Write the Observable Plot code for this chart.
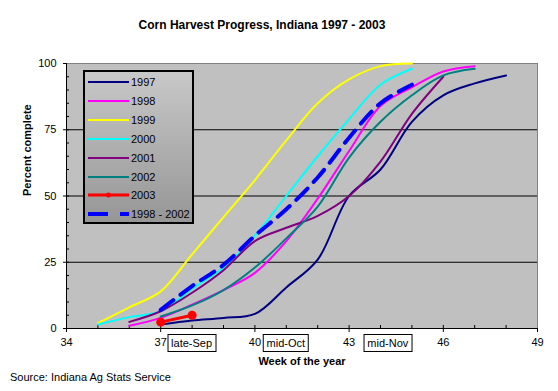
<!DOCTYPE html>
<html><head><meta charset="utf-8">
<script src="https://cdn.jsdelivr.net/npm/d3@7"></script>
<script src="https://cdn.jsdelivr.net/npm/@observablehq/plot@0.6"></script>
<style>
body{margin:0;background:#fff;font-family:"Liberation Sans",Arial,sans-serif;color:#000;}
#wrap{position:relative;width:558px;height:391px;overflow:hidden;background:#fff;}
#title{height:40px;box-sizing:border-box;padding-top:17px;width:524px;text-align:center;font-weight:bold;font-size:12px;line-height:16px;}
#chart svg{display:block;overflow:visible;}
#caption{position:absolute;left:10px;top:369px;font-size:11px;line-height:16px;}
.legend{position:absolute;left:83px;top:70px;width:111px;height:154px;box-sizing:border-box;border:2px solid #000;background:linear-gradient(#c8c8c8,#969696);}
.row{position:absolute;left:0;height:18px;width:105px;}
.row svg{position:absolute;left:3px;top:0;}
.row span{position:absolute;left:46px;top:0;line-height:18px;font-size:11px;}
.note{position:absolute;transform:translate(-50%,-50%);border:1px solid #000;background:#fff;font-size:11px;line-height:16px;padding:0 3px;white-space:nowrap;}
</style></head>
<body>
<div id="wrap">
  <div id="title">Corn Harvest Progress, Indiana 1997 - 2003</div>
  <div id="chart"></div>
  <div id="caption">Source: Indiana Ag Stats Service</div>
</div>
<script>
// ---- data ----
const seriesNames = ["1997","1998","1999","2000","2001","2002","2003","1998 - 2002"];
const seriesColors = ["#000080","#FF00FF","#FFFF00","#00FFFF","#800080","#008080","#FF0000","#0000FF"];

const weeks1997 = [37,38,39,40,41,42,43,44,45,46,47,48];
const pct1997   = [1.5,3,4,5.5,15.5,26,50,60,78,88,92.5,95.5];
const weeks1998 = [36,37,38,39,40,41,42,43,44,45,46,47];
const pct1998   = [1,4,9,14.5,21,33,49,67,84,91,97,99];
const weeks1999 = [35,36,37,38,39,40,41,42,43,44,45];
const pct1999   = [2,8,14,28,42,56,71,85,94,99,100];
const weeks2000 = [35,36,37,38,39,40,41,42,43,44,45];
const pct2000   = [1.5,4.3,6.5,15,23,35,50,65,79,92,98];
const weeks2001 = [36,37,38,39,40,41,42,43,44,45,46];
const pct2001   = [2.5,6.5,13.5,22,33,38,42.5,50,63,81,95];
const weeks2002 = [37,38,39,40,41,42,43,44,45,46,47];
const pct2002   = [4.5,8.7,14.5,23,34,46,64.5,78,88,95.5,98];
const weeks2003 = [37,38];
const pct2003   = [2.4,5];
const weeksAvg  = [37,38,39,40,41,42,43,44,45];
const pctAvg    = [7,16,24,35,45,57,72,85,92];

const xTicks = [34,37,40,43,46,49];
const yTicks = [0,25,50,75,100];
const gridY = [25,50,75];
const minorX = d3.range(35,49);
const minorY = d3.range(5,100,5);
const notes = ["late-Sep","mid-Oct","mid-Nov"];
const noteWeeks = [38,41,44.25];

const rows = (w,v) => w.map((x,i)=>({week:x,pct:v[i]}));
const allSeries = [
  rows(weeks1997,pct1997), rows(weeks1998,pct1998), rows(weeks1999,pct1999),
  rows(weeks2000,pct2000), rows(weeks2001,pct2001), rows(weeks2002,pct2002)
];

const font = '"Liberation Sans", Arial, sans-serif';
const lineMarks = allSeries.map((d,i)=>Plot.line(d,{x:"week",y:"pct",stroke:seriesColors[i],strokeWidth:2,curve:"catmull-rom"}));

const plot = Plot.plot({
  width:558, height:329,
  marginTop:23, marginLeft:66, marginRight:21, marginBottom:41,
  style:{fontFamily:font,fontSize:"11px",color:"#000",background:"transparent",overflow:"visible"},
  x:{domain:[34,49]},
  y:{domain:[0,100]},
  marks:[
    Plot.frame({fill:"#C0C0C0",stroke:"#808080"}),
    Plot.ruleY(gridY,{stroke:"#000"}),
    Plot.tickX(minorX,{x:d=>d,insetTop:262,stroke:"#000"}),
    Plot.tickY(minorY,{y:d=>d,insetRight:468,stroke:"#000"}),
    Plot.ruleX([34],{stroke:"#000"}),
    Plot.ruleY([0],{stroke:"#000"}),
    Plot.axisX(xTicks,{tickSize:4,tickPadding:6,label:null,fontSize:11}),
    Plot.axisY(yTicks,{tickSize:3,tickPadding:7,label:null,fontSize:11}),
    ...lineMarks,
    Plot.line(rows(weeks2003,pct2003),{x:"week",y:"pct",stroke:seriesColors[6],strokeWidth:3}),
    Plot.dot(rows(weeks2003,pct2003),{x:"week",y:"pct",fill:seriesColors[6],r:4.5}),
    Plot.line(rows(weeksAvg,pctAvg),{x:"week",y:"pct",stroke:seriesColors[7],strokeWidth:4,strokeDasharray:"16,9",curve:"catmull-rom"}),
    Plot.text(["Week of the year"],{text:d=>d,frameAnchor:"bottom",dy:36,fontWeight:"bold",fontSize:11}),
    Plot.text(["Percent complete"],{text:d=>d,frameAnchor:"left",dx:-39,rotate:-90,fontWeight:"bold",fontSize:11})
  ]
});
document.getElementById("chart").appendChild(plot);

const wrap = document.getElementById("wrap");
const xs = plot.scale("x");
notes.forEach((t,i)=>{
  const d = document.createElement("div");
  d.className = "note";
  d.textContent = t;
  d.style.left = xs.apply(noteWeeks[i]) + "px";
  d.style.top = "343px";
  wrap.appendChild(d);
});

// legend
const lg = document.createElement("div");
lg.className = "legend";
seriesNames.forEach((n,i)=>{
  const r = document.createElement("div");
  r.className = "row";
  r.style.top = (1 + i*18.9) + "px";
  let sample;
  if (i===6) sample = `<line x1="0" x2="41" y1="9" y2="9" stroke="${seriesColors[i]}" stroke-width="3"/><circle cx="20.5" cy="9" r="2.5" fill="${seriesColors[i]}"/>`;
  else if (i===7) sample = `<line x1="0" x2="41" y1="9" y2="9" stroke="${seriesColors[i]}" stroke-width="4" stroke-dasharray="20,12"/>`;
  else sample = `<line x1="0" x2="41" y1="9" y2="9" stroke="${seriesColors[i]}" stroke-width="2"/>`;
  r.innerHTML = `<svg width="42" height="18">${sample}</svg><span>${n}</span>`;
  lg.appendChild(r);
});
wrap.appendChild(lg);
</script>
</body></html>
